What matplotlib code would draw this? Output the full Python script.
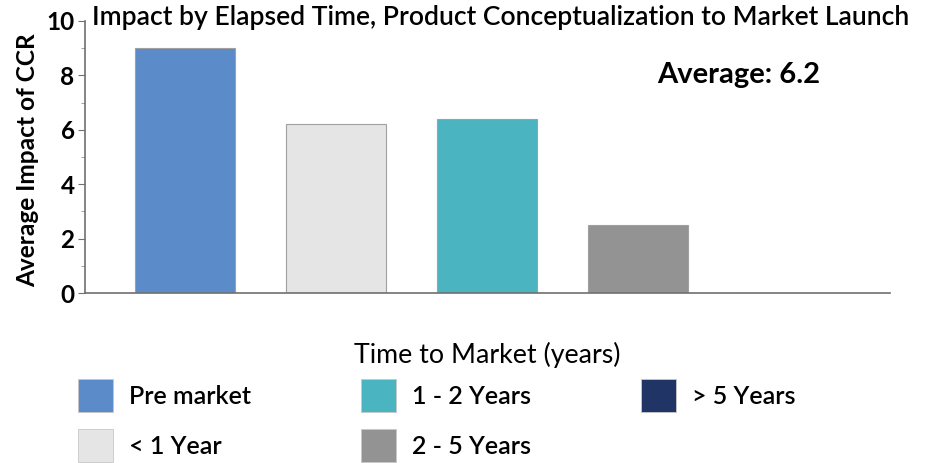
import matplotlib
matplotlib.use("Agg")
import matplotlib.pyplot as plt
from matplotlib.patches import Patch

categories = ["Pre market", "< 1 Year", "1 - 2 Years", "2 - 5 Years", "> 5 Years"]
values = [9.0, 6.2, 6.4, 2.5, 0.0]
colors = ["#5b8bc8", "#e5e5e5", "#4ab4c1", "#939393", "#203565"]
yticks = [0, 2, 4, 6, 8, 10]
title = "Impact by Elapsed Time, Product Conceptualization to Market Launch"
average_label = "Average: 6.2"
legend_title = "Time to Market (years)"

plt.rcParams['font.family'] = ['Lato', 'DejaVu Sans']

fig = plt.figure(figsize=(9.32, 4.63), dpi=100)
ax = fig.add_axes([0.0912, 0.367, 0.864, 0.588])

x = list(range(len(categories)))
ax.bar(x, values, width=0.66, color=colors, edgecolor="#a0a0a0", linewidth=0.8)
ax.set_xlim(-0.66, 4.67)
ax.set_ylim(0, 10)
ax.set_xticks([])
ax.set_yticks(yticks)
ax.set_yticks([1, 3, 5, 7, 9], minor=True)
ax.tick_params(axis='y', which='major', labelsize=17.5, length=5, color="#707070", pad=2.5)
ax.tick_params(axis='y', which='minor', length=3, color="#909090")
for lbl in ax.get_yticklabels():
    lbl.set_fontweight('bold')
for s in ['top', 'right']:
    ax.spines[s].set_visible(False)
for s in ['left', 'bottom']:
    ax.spines[s].set_color("#707070")
    ax.spines[s].set_linewidth(1.2)

ax.set_ylabel("Average Impact of CCR", fontsize=17.6, fontweight='bold', va='center')
ax.yaxis.set_label_coords(-0.0708, 0.489)
ax.text(0.009, 1.011, title, transform=ax.transAxes, fontsize=19.1, ha='left', va='center',
        fontweight='semibold')
ax.text(0.913, 0.80, average_label, transform=ax.transAxes, fontsize=21,
        fontweight='bold', ha='right', va='center')

fig.text(487 / 932, 1 - 355 / 463, legend_title, fontsize=19.3, ha='center', va='center')

handles = [Patch(facecolor=c, edgecolor="#c8c8c8", linewidth=0.6) for c in colors]
leg = fig.legend(handles, categories, ncol=3, loc='upper left',
                 bbox_to_anchor=(78 / 932, 1 - 379 / 463), frameon=False,
                 borderpad=0, borderaxespad=0,
                 prop={'size': 18, 'weight': 'semibold'},
                 handlelength=1.4, handleheight=1.65, handletextpad=0.64,
                 columnspacing=4.4, labelspacing=0.68)

fig.savefig("out.png", dpi=100)
